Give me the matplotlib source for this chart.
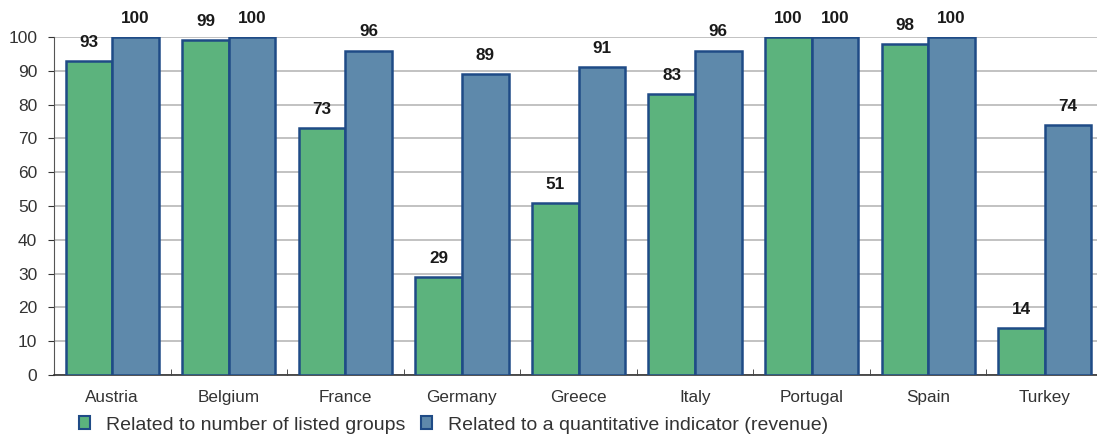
import matplotlib.pyplot as plt
import numpy as np
from matplotlib.patches import Patch

plt.rcParams['font.family'] = ['Liberation Sans', 'DejaVu Sans']

# Data
countries = ['Austria', 'Belgium', 'France', 'Germany', 'Greece', 'Italy', 'Portugal', 'Spain', 'Turkey']
listed_groups = [93, 99, 73, 29, 51, 83, 100, 98, 14]
revenue = [100, 100, 96, 89, 91, 96, 100, 100, 74]

green = '#5cb37d'
blue = '#5e89ab'
edge = '#1f4b86'

fig = plt.figure(figsize=(10.97, 4.36), dpi=100)
ax = fig.add_axes([54 / 1097, 61 / 436, 1049 / 1097, 338 / 436])

x = np.arange(len(countries))
w = 0.4
b1 = ax.bar(x - w / 2, listed_groups, w, color=green, edgecolor=edge, linewidth=1.8, zorder=3)
b2 = ax.bar(x + w / 2, revenue, w, color=blue, edgecolor=edge, linewidth=1.8, zorder=3)

for bars, vals in [(b1, listed_groups), (b2, revenue)]:
    for bar, v in zip(bars, vals):
        ax.annotate(str(v), (bar.get_x() + bar.get_width() / 2, v), xytext=(0, 8),
                    textcoords='offset points', ha='center', va='bottom',
                    fontsize=12.3, fontweight='bold', color='#1a1a1a', clip_on=False)

ax.set_xlim(-0.5, len(countries) - 0.5)
ax.set_ylim(0, 100)
ax.set_yticks(range(0, 101, 10))
ax.set_xticks(x)
ax.set_xticklabels(countries)
ax.set_xticks(np.arange(0.5, len(countries) - 1, 1), minor=True)
ax.tick_params(axis='x', which='major', length=0, pad=11, labelsize=12.3, colors='#333333')
ax.tick_params(axis='x', which='minor', direction='in', length=4, color='#333333')
ax.tick_params(axis='y', length=4, labelsize=12.5, colors='#333333', pad=8)
ax.yaxis.grid(True, color='#b8b8b8', linewidth=1.2, zorder=0)
ax.set_axisbelow(True)
for s in ['top', 'right']:
    ax.spines[s].set_visible(False)
ax.spines['left'].set_color('#555555')
ax.spines['bottom'].set_color('#333333')
ax.spines['bottom'].set_linewidth(1.2)

handles = [Patch(facecolor=green, edgecolor=edge, linewidth=1.5, label='Related to number of listed groups'),
           Patch(facecolor=blue, edgecolor=edge, linewidth=1.5, label='Related to a quantitative indicator (revenue)')]
fig.legend(handles=handles, loc='center left', bbox_to_anchor=(61 / 1097, 11 / 436), ncol=2,
           frameon=False, fontsize=14, handlelength=0.6, handleheight=0.6,
           handletextpad=0.8, columnspacing=0.8, labelcolor='#333333')

fig.savefig('out.png', dpi=100)
